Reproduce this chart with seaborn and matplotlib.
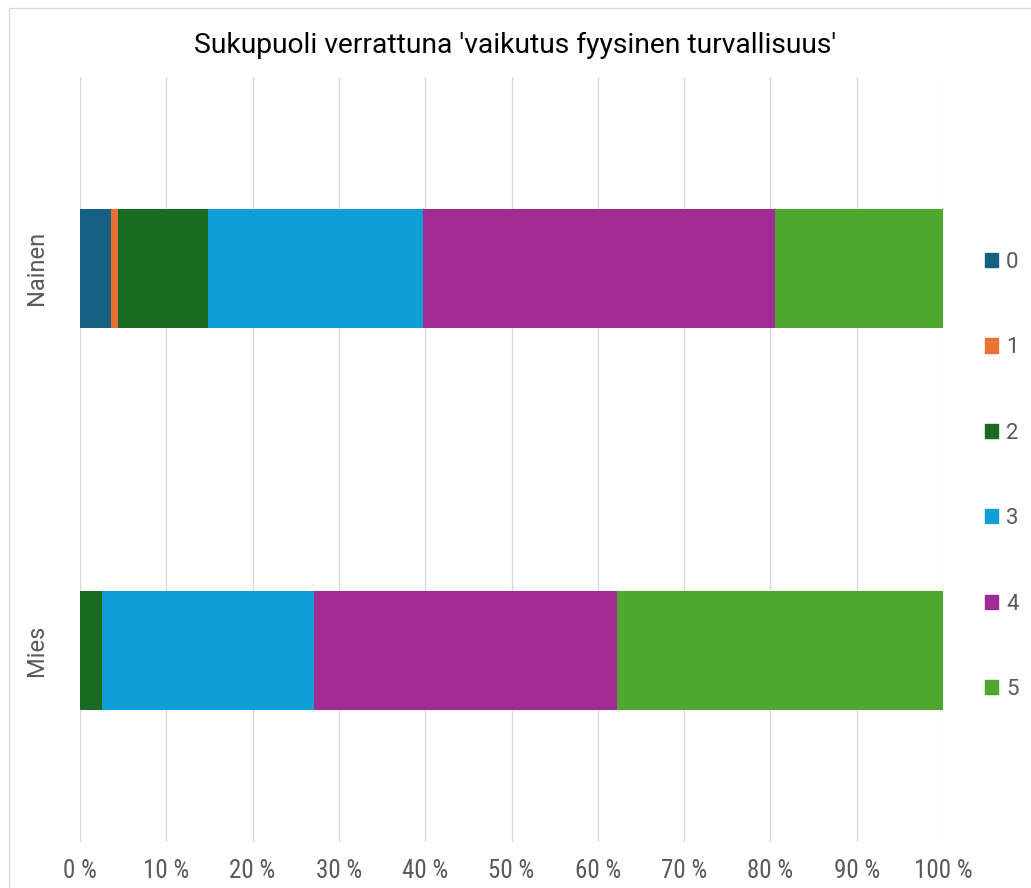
import matplotlib
matplotlib.use("Agg")
import matplotlib.pyplot as plt
import matplotlib.patches as mpatches
import seaborn as sns
import pandas as pd
import numpy as np

groups = ["Nainen", "Mies"]
categories = ["0", "1", "2", "3", "4", "5"]
values_0 = [3.6, 0.0]
values_1 = [0.8, 0.0]
values_2 = [10.4, 2.5]
values_3 = [24.9, 24.6]
values_4 = [40.8, 35.1]
values_5 = [19.5, 37.8]
colors = ["#156082", "#E97132", "#196B24", "#0F9ED5", "#A02B93", "#4EA72E"]
xticks = [0, 10, 20, 30, 40, 50, 60, 70, 80, 90, 100]
title = "Sukupuoli verrattuna 'vaikutus fyysinen turvallisuus'"

sns.set_theme(style="white")
plt.rcParams["font.family"] = ["Roboto", "DejaVu Sans"]

series = [values_0, values_1, values_2, values_3, values_4, values_5]
cum = np.cumsum(np.array(series), axis=0)

W, H = 1031, 888
fig = plt.figure(figsize=(W / 100, H / 100), dpi=100)
ax = fig.add_axes([80 / W, 1 - 842 / H, (943 - 80) / W, (842 - 77) / H])

# chart border
fig.patches.append(mpatches.Rectangle((9 / W, -0.1), 1.2, 1 - 8 / H + 0.1,
                                      transform=fig.transFigure, fill=False,
                                      edgecolor="#D9D9D9", linewidth=1.0))

for k in range(len(categories) - 1, -1, -1):
    df = pd.DataFrame({"group": groups, "value": cum[k]})
    sns.barplot(data=df, x="value", y="group", orient="h", color=colors[k],
                saturation=1, width=0.31, ax=ax, order=groups, linewidth=0)

ax.set_xlim(0, 100)
ax.set_ylim(1.5, -0.5)
ax.set_xticks(xticks)
ax.set_xticklabels([f"{t} %" for t in xticks], color="#595959", fontsize=18,
                   family=["Roboto Condensed", "Roboto", "DejaVu Sans"])
ax.set_yticks(range(len(groups)))
ax.set_yticklabels(groups, rotation=90, va="center", color="#595959", fontsize=17)
ax.tick_params(axis="x", length=0, pad=12)
ax.tick_params(axis="y", length=0, pad=23)
ax.set_xlabel("")
ax.set_ylabel("")
ax.xaxis.grid(True, color="#D9D9D9", linewidth=1.0)
ax.set_axisbelow(True)
for s in ax.spines.values():
    s.set_visible(False)

fig.text(0.5, 1 - 45 / H, title, ha="center", va="center", fontsize=20.3, color="#000000")

handles = [mpatches.Patch(color=c, label=l) for c, l in zip(colors, categories)]
fig.legend(handles=handles, loc="upper left", bbox_to_anchor=(976 / W, 1 - 243 / H),
           frameon=False, fontsize=16, labelcolor="#595959", handlelength=0.6,
           handleheight=0.6, handletextpad=0.35, labelspacing=2.9, borderaxespad=0)

fig.savefig("out.png", dpi=100)
